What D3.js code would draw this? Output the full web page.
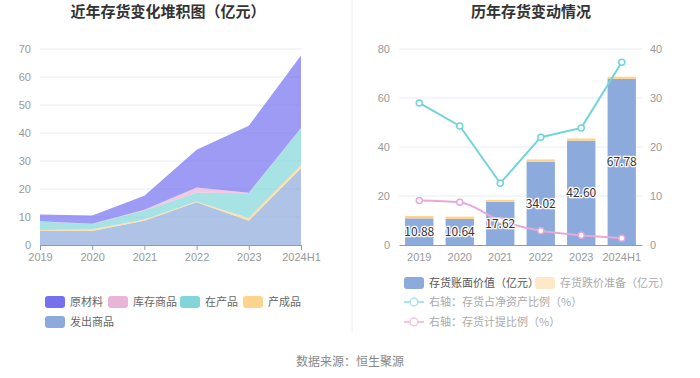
<!DOCTYPE html>
<html>
<head>
<meta charset="utf-8">
<script src="https://cdn.jsdelivr.net/npm/d3@7"></script>
<style>
  body { margin: 0; background: #fff; }
  svg { font-family: "Noto Sans CJK SC", "Noto Sans", sans-serif; display: block; }
</style>
</head>
<body>
<svg id="chart" width="700" height="378"></svg>
<script>
// ---- data ----
const years = ["2019", "2020", "2021", "2022", "2023", "2024H1"];

// left: stacked areas (亿元), bottom to top
const faChu = [5.1, 5.0, 8.7, 15.3, 8.7, 27.4];      // 发出商品
const chanCheng = [0.3, 0.6, 0.4, 0.2, 0.9, 1.2];   // 产成品
const zaiChan = [3.0, 1.9, 3.2, 3.2, 8.9, 13.1];    // 在产品
const kuCun = [0.1, 0.1, 0.3, 1.8, 0.2, 0.1];       // 库存商品
const yuanCai = [2.4, 2.9, 5.0, 13.5, 23.9, 25.9];  // 原材料

// right: bars (亿元) and lines (%)
const bookValue = [10.88, 10.64, 17.62, 34.02, 42.60, 67.78];
const reserve = [1.0, 0.95, 0.8, 0.9, 0.9, 0.9];
const invToAssets = [29.0, 24.3, 12.6, 22.0, 23.9, 37.3];
const provisionRatio = [9.1, 8.7, 5.0, 2.9, 2.0, 1.4];

const svg = d3.select("#chart");
const axisColor = "#8e9bb3", gridColor = "#e8ecf5", tickText = "#999";

// ---- titles ----
svg.append("text").attr("x", 168).attr("y", 17).attr("text-anchor", "middle")
  .style("font-size", "15px").style("font-weight", "bold").attr("fill", "#333")
  .text("近年存货变化堆积图（亿元）");
svg.append("text").attr("x", 531).attr("y", 17).attr("text-anchor", "middle")
  .style("font-size", "15px").style("font-weight", "bold").attr("fill", "#333")
  .text("历年存货变动情况");

// divider
svg.append("line").attr("x1", 352).attr("x2", 352).attr("y1", 0).attr("y2", 333)
  .attr("stroke", "#eee");

// ---- left chart ----
const xL = d3.scalePoint().domain(years).range([40, 301]);
const yL = d3.scaleLinear().domain([0, 70]).range([245, 49]);

const gl = svg.append("g");
gl.selectAll("line.grid").data(yL.ticks(7).filter(d => d > 0)).enter().append("line")
  .attr("x1", 40).attr("x2", 301).attr("y1", d => yL(d)).attr("y2", d => yL(d))
  .attr("stroke", gridColor);

const layers = [
  { name: "发出商品", vals: faChu, color: "#8caadb" },
  { name: "产成品", vals: chanCheng, color: "#fdd48e" },
  { name: "在产品", vals: zaiChan, color: "#82d6da" },
  { name: "库存商品", vals: kuCun, color: "#e8b4d8" },
  { name: "原材料", vals: yuanCai, color: "#7470ee" }
];
const table = years.map((y, i) => {
  const o = { year: y };
  layers.forEach(l => o[l.name] = l.vals[i]);
  return o;
});
const stacked = d3.stack().keys(layers.map(l => l.name))(table);
const area = d3.area().x(d => xL(d.data.year)).y0(d => yL(d[0])).y1(d => yL(d[1]));
gl.selectAll("path.area").data(stacked).enter().append("path")
  .attr("d", area)
  .attr("fill", (d, i) => layers[i].color)
  .attr("fill-opacity", 0.7);

const axL = gl.append("g").attr("transform", "translate(0,245)")
  .call(d3.axisBottom(xL).tickSize(5).tickSizeOuter(0));
axL.select(".domain").attr("stroke", axisColor);
axL.selectAll("line").attr("stroke", axisColor);
axL.selectAll("text").attr("fill", tickText).style("font-size", "11px").attr("dy", "0.71em");

const ayL = gl.append("g").attr("transform", "translate(34,0)")
  .call(d3.axisLeft(yL).ticks(7).tickSize(0));
ayL.select(".domain").remove();
ayL.selectAll("text").attr("fill", tickText).style("font-size", "11px");

// left legend
const legL = [
  { name: "原材料", color: "#7470ee", x: 45, y: 302 },
  { name: "库存商品", color: "#e8b4d8", x: 108, y: 302 },
  { name: "在产品", color: "#82d6da", x: 180, y: 302 },
  { name: "产成品", color: "#fdd48e", x: 243, y: 302 },
  { name: "发出商品", color: "#8caadb", x: 45, y: 322 }
];
const lgL = svg.selectAll("g.legl").data(legL).enter().append("g")
  .attr("transform", d => `translate(${d.x},${d.y})`);
lgL.append("rect").attr("x", 0).attr("y", -6).attr("width", 20).attr("height", 12).attr("rx", 3)
  .attr("fill", d => d.color);
lgL.append("text").attr("x", 25).attr("y", 4).style("font-size", "11px").attr("fill", "#666")
  .text(d => d.name);

// ---- right chart ----
const xR = d3.scaleBand().domain(years).range([399, 642]).paddingInner(0.3).paddingOuter(0.15);
const yR = d3.scaleLinear().domain([0, 80]).range([245, 49]);
const yR2 = d3.scaleLinear().domain([0, 40]).range([245, 49]);

const gr = svg.append("g");
gr.selectAll("line.grid").data(yR.ticks(4).filter(d => d > 0)).enter().append("line")
  .attr("x1", 399).attr("x2", 642).attr("y1", d => yR(d)).attr("y2", d => yR(d))
  .attr("stroke", gridColor);

gr.selectAll("rect.book").data(bookValue).enter().append("rect")
  .attr("x", (d, i) => xR(years[i])).attr("width", xR.bandwidth())
  .attr("y", d => yR(d)).attr("height", d => yR(0) - yR(d))
  .attr("fill", "#8caadb");
gr.selectAll("rect.res").data(reserve).enter().append("rect")
  .attr("x", (d, i) => xR(years[i])).attr("width", xR.bandwidth())
  .attr("y", (d, i) => yR(bookValue[i] + d)).attr("height", d => yR(0) - yR(d))
  .attr("fill", "#fdd48e");

const axR = gr.append("g").attr("transform", "translate(0,245)")
  .call(d3.axisBottom(xR).tickSize(0).tickSizeOuter(0));
axR.select(".domain").attr("stroke", axisColor);
axR.selectAll("text").attr("fill", tickText).style("font-size", "11px").attr("dy", "1.15em");

const ayR = gr.append("g").attr("transform", "translate(393,0)")
  .call(d3.axisLeft(yR).ticks(4).tickSize(0));
ayR.select(".domain").remove();
ayR.selectAll("text").attr("fill", tickText).style("font-size", "11px");

const ayR2 = gr.append("g").attr("transform", "translate(647,0)")
  .call(d3.axisRight(yR2).ticks(4).tickSize(0));
ayR2.select(".domain").remove();
ayR2.selectAll("text").attr("fill", tickText).style("font-size", "11px");

const cx = y => xR(y) + xR.bandwidth() / 2;
const lines = [
  { vals: invToAssets, color: "#72d4da", curve: d3.curveLinear },
  { vals: provisionRatio, color: "#e8a8d8", curve: d3.curveMonotoneX }
];
lines.forEach(l => {
  const lineGen = d3.line().x((d, i) => cx(years[i])).y(d => yR2(d)).curve(l.curve);
  gr.append("path").datum(l.vals).attr("d", lineGen)
    .attr("fill", "none").attr("stroke", l.color).attr("stroke-width", 2);
  gr.selectAll(null).data(l.vals).enter().append("circle")
    .attr("cx", (d, i) => cx(years[i])).attr("cy", d => yR2(d)).attr("r", 3)
    .attr("fill", "#fff").attr("stroke", l.color).attr("stroke-width", 1.5);
});

// bar labels
gr.selectAll("text.lbl").data(bookValue).enter().append("text")
  .attr("x", (d, i) => cx(years[i])).attr("y", d => yR(d / 2)).attr("dy", "0.35em")
  .attr("text-anchor", "middle").style("font-size", "12px")
  .attr("fill", "#333").attr("stroke", "#fff").attr("stroke-width", 2.5)
  .attr("paint-order", "stroke")
  .text(d => d.toFixed(2));

// right legend
const lgR = svg.append("g");
const rects = [
  { name: "存货账面价值（亿元）", color: "#8caadb", tc: "#555", x: 404, y: 283 },
  { name: "存货跌价准备（亿元）", color: "#fde8c8", tc: "#aaa", x: 535, y: 283 }
];
rects.forEach(r => {
  lgR.append("rect").attr("x", r.x).attr("y", r.y - 6).attr("width", 20).attr("height", 12)
    .attr("rx", 3).attr("fill", r.color);
  lgR.append("text").attr("x", r.x + 25).attr("y", r.y + 4).style("font-size", "11px")
    .attr("fill", r.tc).text(r.name);
});
const lineLeg = [
  { name: "右轴：存货占净资产比例（%）", color: "#a8e4ea", y: 302 },
  { name: "右轴：存货计提比例（%）", color: "#f4c4e4", y: 322 }
];
lineLeg.forEach(r => {
  lgR.append("line").attr("x1", 404).attr("x2", 424).attr("y1", r.y).attr("y2", r.y)
    .attr("stroke", r.color).attr("stroke-width", 2);
  lgR.append("circle").attr("cx", 414).attr("cy", r.y).attr("r", 4)
    .attr("fill", "#fff").attr("stroke", r.color).attr("stroke-width", 1.5);
  lgR.append("text").attr("x", 429).attr("y", r.y + 4).style("font-size", "11px")
    .attr("fill", "#aaa").text(r.name);
});

// source
svg.append("text").attr("x", 350).attr("y", 366).attr("text-anchor", "middle")
  .style("font-size", "12px").attr("fill", "#888").text("数据来源：恒生聚源");
</script>
</body>
</html>
